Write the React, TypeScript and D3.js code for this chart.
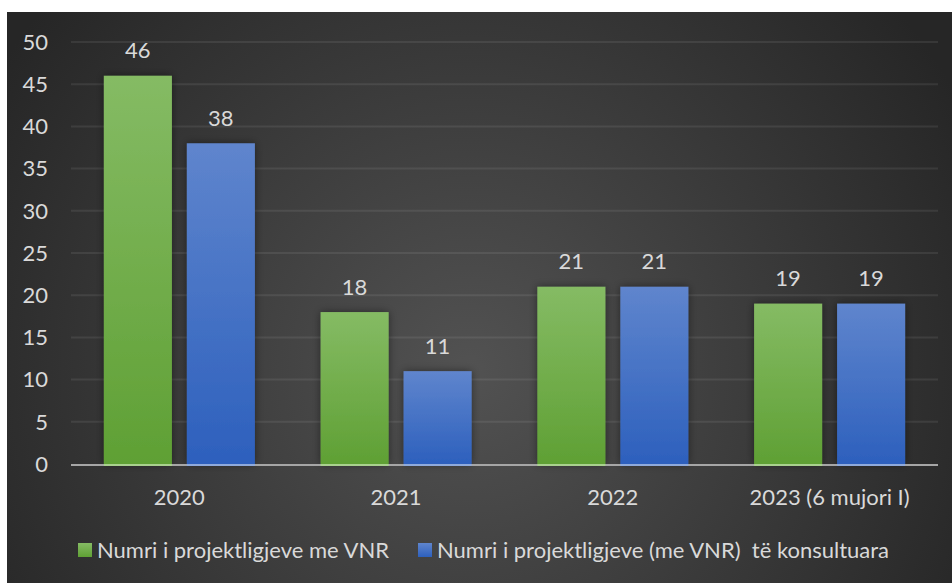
import React from "react";
import * as d3 from "d3";

const categories = ["2020", "2021", "2022", "2023 (6 mujori I)"];
const seriesNames = [
  "Numri i projektligjeve me VNR",
  "Numri i projektligjeve (me VNR)  të konsultuara",
];
const vnrValues = [46, 18, 21, 19];
const consultedValues = [38, 11, 21, 19];
const yTicks = [0, 5, 10, 15, 20, 25, 30, 35, 40, 45, 50];

const W = 952;
const H = 583;
const FONT = "Lato, 'Open Sans', sans-serif";
const TEXT = "#d9d9d9";
const FS = 22;

export default function App() {
  const x = d3.scaleBand().domain(categories).range([71, 938]);
  const xs = d3
    .scaleBand()
    .domain(["vnr", "cons"])
    .range([0, x.bandwidth()])
    .paddingInner(0.18)
    .paddingOuter(0.396);
  const y = d3.scaleLinear().domain([0, 50]).range([464, 42]);

  const series = [
    { key: "vnr", values: vnrValues, fill: "url(#gGreen)", glow: "#a9d18e" },
    { key: "cons", values: consultedValues, fill: "url(#gBlue)", glow: "#8faadc" },
  ];

  return (
    <svg
      width={W}
      height={H}
      style={{ position: "absolute", left: 0, top: 0 }}
      fontFamily={FONT}
    >
      <defs>
        <radialGradient id="bg" gradientUnits="userSpaceOnUse" cx={470} cy={370} r={560}>
          <stop offset="0" stopColor="#525252" />
          <stop offset="1" stopColor="#262626" />
        </radialGradient>
        <linearGradient id="gGreen" x1="0" y1="0" x2="0" y2="1">
          <stop offset="0" stopColor="#85bb64" />
          <stop offset="1" stopColor="#5fa034" />
        </linearGradient>
        <linearGradient id="gBlue" x1="0" y1="0" x2="0" y2="1">
          <stop offset="0" stopColor="#5f85cd" />
          <stop offset="1" stopColor="#2d60bd" />
        </linearGradient>
        <filter id="shadow" x="-30%" y="-30%" width="160%" height="160%">
          <feDropShadow dx="0" dy="0" stdDeviation="4" floodColor="#000" floodOpacity="0.45" />
        </filter>
      </defs>

      <rect x={7} y={12} width={W - 7} height={H - 12} fill="url(#bg)" />

      {/* gridlines */}
      {yTicks.slice(1).map((t) => (
        <line
          key={t}
          x1={71}
          x2={938}
          y1={y(t)}
          y2={y(t)}
          stroke="rgba(255,255,255,0.08)"
          strokeWidth={2}
        />
      ))}

      {/* y tick labels */}
      {yTicks.map((t) => (
        <text
          key={t}
          x={48}
          y={y(t)}
          dy="0.35em"
          textAnchor="end"
          fontSize={FS}
          fill={TEXT}
        >
          {t}
        </text>
      ))}

      {/* bars */}
      {series.map((s) =>
        categories.map((c, i) => {
          const bx = x(c)! + xs(s.key)!;
          const v = s.values[i];
          return (
            <g key={s.key + c}>
              <rect
                x={bx}
                y={y(v)}
                width={xs.bandwidth()}
                height={y(0) - y(v)}
                fill={s.fill}
                filter="url(#shadow)"
              />
              <text
                x={bx + xs.bandwidth() / 2}
                y={y(v) - 25}
                dy="0.35em"
                textAnchor="middle"
                fontSize={FS}
                fill={TEXT}
              >
                {v}
              </text>
            </g>
          );
        })
      )}

      {/* axis line */}
      <line x1={71} x2={938} y1={465} y2={465} stroke="#a6a6a6" strokeWidth={2} />
      {series.map((s) =>
        categories.map((c) => (
          <line
            key={"glow" + s.key + c}
            x1={x(c)! + xs(s.key)!}
            x2={x(c)! + xs(s.key)! + xs.bandwidth()}
            y1={465}
            y2={465}
            stroke={s.glow}
            strokeWidth={2}
          />
        ))
      )}

      {/* category labels */}
      {categories.map((c) => (
        <text
          key={c}
          x={x(c)! + x.bandwidth() / 2}
          y={497}
          dy="0.35em"
          textAnchor="middle"
          fontSize={FS}
          fill={TEXT}
        >
          {c}
        </text>
      ))}

      {/* legend */}
      <rect x={78} y={543} width={14} height={14} fill="url(#gGreen)" />
      <text x={97} y={550} dy="0.35em" fontSize={FS} fill={TEXT}>
        {seriesNames[0]}
      </text>
      <rect x={418} y={543} width={14} height={14} fill="url(#gBlue)" />
      <text x={437} y={550} dy="0.35em" fontSize={FS} fill={TEXT} style={{ whiteSpace: "pre" }}>
        {seriesNames[1]}
      </text>
    </svg>
  );
}
